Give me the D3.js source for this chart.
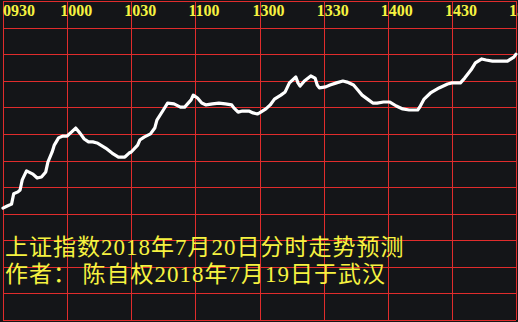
<!DOCTYPE html>
<html>
<head>
<meta charset="utf-8">
<script src="https://cdn.jsdelivr.net/npm/d3@7"></script>
<style>
  html, body { margin: 0; padding: 0; background: #141518; }
  svg { display: block; }
</style>
</head>
<body>
<div id="chart"></div>
<script>

// time labels along the top (lunch break collapsed at 1130/1300)
var timeLabels = ["0930", "1000", "1030", "1100", "1300", "1330", "1400", "1430", "1500"];

// minutes since the open (0..240 trading minutes)
var minutes = [0, 2, 4, 5, 7, 8, 9, 11, 14, 16, 18, 20, 21, 23, 24, 26, 28, 30, 32, 34,
  36, 38, 40, 42, 44, 48, 51, 54, 57, 59, 60, 63, 64, 66, 69, 71, 72, 75, 77, 80,
  83, 85, 88, 89, 91, 93, 95, 98, 101, 104, 107, 108, 110, 112, 115, 117, 119, 120, 123, 125,
  127, 130, 132, 134, 137, 138, 139, 141, 144, 146, 147, 148, 151, 153, 156, 159, 161, 164, 166, 168,
  171, 173, 175, 178, 181, 184, 187, 190, 194, 195, 197, 200, 204, 208, 210, 214, 216, 219, 221, 224,
  226, 229, 233, 236, 239, 240];

// forecast level, in grid rows above the bottom line
var levels = [4.21, 4.29, 4.36, 4.75, 4.82, 4.89, 5.27, 5.61, 5.49, 5.34, 5.38, 5.57, 5.94, 6.32, 6.58, 6.85, 6.92, 6.92, 7.07, 7.22,
  7.03, 6.81, 6.70, 6.70, 6.66, 6.47, 6.28, 6.13, 6.13, 6.28, 6.32, 6.58, 6.77, 6.88, 7.00, 7.22, 7.52, 7.90, 8.16, 8.13,
  8.01, 8.01, 8.28, 8.46, 8.35, 8.16, 8.09, 8.13, 8.16, 8.13, 8.09, 7.98, 7.82, 7.86, 7.86, 7.79, 7.75, 7.79, 7.94, 8.09,
  8.31, 8.46, 8.58, 8.92, 9.14, 8.92, 8.80, 8.99, 9.18, 9.10, 8.84, 8.73, 8.77, 8.84, 8.92, 8.99, 8.95, 8.84, 8.65, 8.46,
  8.28, 8.16, 8.16, 8.20, 8.20, 8.05, 7.94, 7.90, 7.90, 8.01, 8.31, 8.54, 8.73, 8.88, 8.92, 8.92, 9.10, 9.41, 9.67, 9.82,
  9.78, 9.74, 9.74, 9.74, 9.89, 10.0];

var titleLines = ["上证指数2018年7月20日分时走势预测", "作者：\u2009陈自权2018年7月19日于武汉"];

var W = 518, H = 322;
var red = "#e02c2c", yellow = "#f6f240";

var svg = d3.select("#chart").append("svg")
    .attr("width", W)
    .attr("height", H);

svg.append("rect")
    .attr("width", W).attr("height", H)
    .attr("fill", "#141518");

var x = d3.scaleLinear().domain([0, 240]).range([3, 516]);
var y = d3.scaleLinear().domain([0, 12]).range([320, 1]);

// ****************** grid ***************************
var grid = svg.append("g").attr("shape-rendering", "crispEdges");

grid.selectAll("line.h")
    .data(d3.range(0, 13))
  .enter().append("line")
    .attr("class", "h")
    .attr("x1", x(0)).attr("x2", x(240))
    .attr("y1", function(d) { return Math.round(y(d)) + 0.5; })
    .attr("y2", function(d) { return Math.round(y(d)) + 0.5; })
    .attr("stroke", red)
    .attr("stroke-width", 1);

grid.selectAll("line.v")
    .data(timeLabels)
  .enter().append("line")
    .attr("class", "v")
    .attr("x1", function(d, i) { return Math.round(x(i * 30)) + 0.5; })
    .attr("x2", function(d, i) { return Math.round(x(i * 30)) + 0.5; })
    .attr("y1", y(12)).attr("y2", y(0))
    .attr("stroke", red)
    .attr("stroke-width", 1);

// time labels, drawn just left of each line
svg.selectAll("text.time")
    .data(timeLabels)
  .enter().append("text")
    .attr("class", "time")
    .attr("x", function(d, i) { return i == 0 ? 3 : x(i * 30) - 7; })
    .attr("y", 16)
    .attr("fill", yellow)
    .style("font-family", "'Liberation Serif', serif")
    .style("font-weight", "bold")
    .style("font-size", "16px")
    .text(function(d) { return d; });

// ****************** forecast line ***************************
var pts = minutes.map(function(m, i) { return [m, levels[i]]; });

var line = d3.line()
    .x(function(d) { return x(d[0]); })
    .y(function(d) { return y(d[1]); });

svg.append("path")
    .datum(pts)
    .attr("d", line)
    .attr("fill", "none")
    .attr("stroke", "#ffffff")
    .attr("stroke-width", 3.2)
    .attr("stroke-linejoin", "round")
    .attr("stroke-linecap", "round");

// ****************** caption ***************************
svg.selectAll("text.cap")
    .data(titleLines)
  .enter().append("text")
    .attr("class", "cap")
    .attr("x", 5)
    .attr("y", function(d, i) { return 255 + i * 27; })
    .attr("fill", yellow)
    .style("font-family", "'Liberation Serif', 'Noto Sans CJK SC', serif")
    .style("font-size", "23px")
    .style("letter-spacing", "1px")
    .text(function(d) { return d; });

</script>
</body>
</html>
